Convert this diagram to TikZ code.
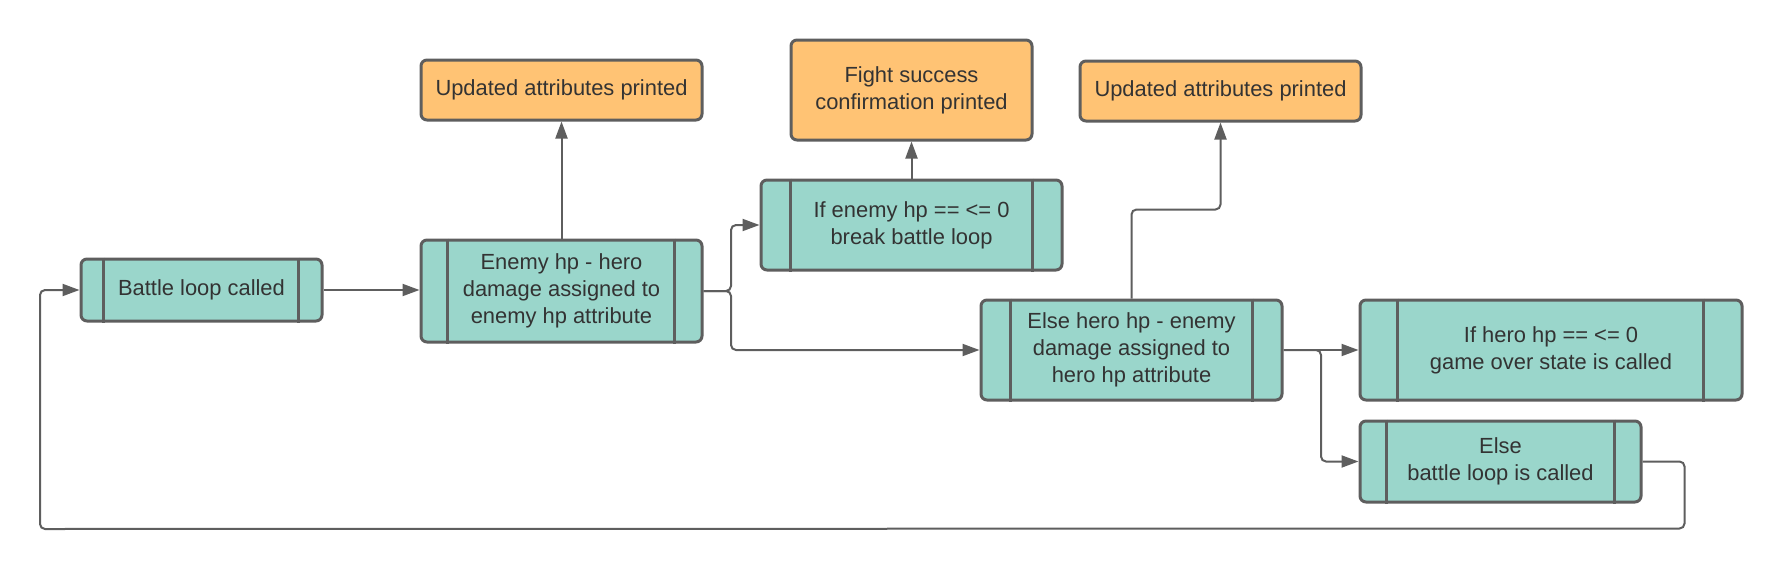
\documentclass[tikz,border=0pt]{standalone}
\usepackage{fontspec}
\setmainfont{Liberation Sans}
\usetikzlibrary{arrows.meta}
\definecolor{teal1}{HTML}{9AD6CB}
\definecolor{orng}{HTML}{FFC374}
\definecolor{edge}{HTML}{5E5E5E}
\definecolor{txt}{HTML}{333333}
\tikzset{
  box/.style={draw=edge, line width=3pt, rounded corners=6pt, align=center,
    text=txt, inner sep=0pt, font=\fontsize{21.9}{26.7}\selectfont},
  procbox/.style={box, fill=teal1},
  outbox/.style={box, fill=orng},
  conn/.style={draw=edge, line width=2pt, rounded corners=5pt,
    -{Triangle[length=17pt,width=12pt]}},
  plain/.style={draw=edge, line width=2pt, rounded corners=5pt},
  sidebar/.style={draw=edge, line width=3pt}
}
\newcommand{\bars}[3]{%
  \draw[sidebar] ([xshift=#2pt]#1.north west) -- ([xshift=#2pt]#1.south west);
  \draw[sidebar] ([xshift=-#3pt]#1.north east) -- ([xshift=-#3pt]#1.south east);}
\begin{document}
\begin{tikzpicture}[x=1pt,y=-1pt]
\useasboundingbox (0,0) rectangle (1782,570);
\node[procbox, minimum width=241pt, minimum height=62pt] (battle) at (201.5,290) {Battle loop called};
\bars{battle}{24}{25}
\node[procbox, minimum width=281pt, minimum height=102pt] (enemy) at (561.5,291) {Enemy hp - hero\\damage assigned to\\enemy hp attribute};
\bars{enemy}{28}{29}
\node[outbox, minimum width=281pt, minimum height=60pt] (upd1) at (561.5,90) {Updated attributes printed};
\node[outbox, minimum width=241pt, minimum height=100pt] (fight) at (911.5,90) {Fight success\\confirmation printed};
\node[procbox, minimum width=301pt, minimum height=90pt] (ifenemy) at (911.5,225) {If enemy hp == <= 0\\break battle loop};
\bars{ifenemy}{31}{31}
\node[outbox, minimum width=281pt, minimum height=60pt] (upd2) at (1220.5,91) {Updated attributes printed};
\node[procbox, minimum width=301pt, minimum height=100pt] (elsehero) at (1131.5,350) {Else hero hp - enemy\\damage assigned to\\hero hp attribute};
\bars{elsehero}{31}{31}
\node[procbox, minimum width=382pt, minimum height=100pt] (ifhero) at (1551,350) {If hero hp == <= 0\\game over state is called};
\bars{ifhero}{39}{40}
\node[procbox, minimum width=281pt, minimum height=81pt] (elsebox) at (1500.5,461.5) {Else\\battle loop is called};
\bars{elsebox}{28}{28}

\coordinate (j1) at (731,291);
\coordinate (j2) at (1321,350);
\draw[conn] (battle.east) -- (battle.east -| enemy.west);
\draw[conn] (enemy.north) -- (upd1.south);
\draw[conn] (enemy.east) -- (j1) |- (ifenemy.west);
\draw[conn] (enemy.east) -- (j1) |- (elsehero.west);
\draw[conn] (ifenemy.north) -- (fight.south);
\draw[conn] (elsehero.north) -- ++(0,-89) -| (upd2.south);
\draw[conn] (elsehero.east) -- (ifhero.west);
\draw[conn] (elsehero.east) -- (j2) |- (elsebox.west);
\draw[conn] (elsebox.east) -- ++(42,0) -- ++(0,67) -- (40,529) |- (battle.west);
\end{tikzpicture}
\end{document}
